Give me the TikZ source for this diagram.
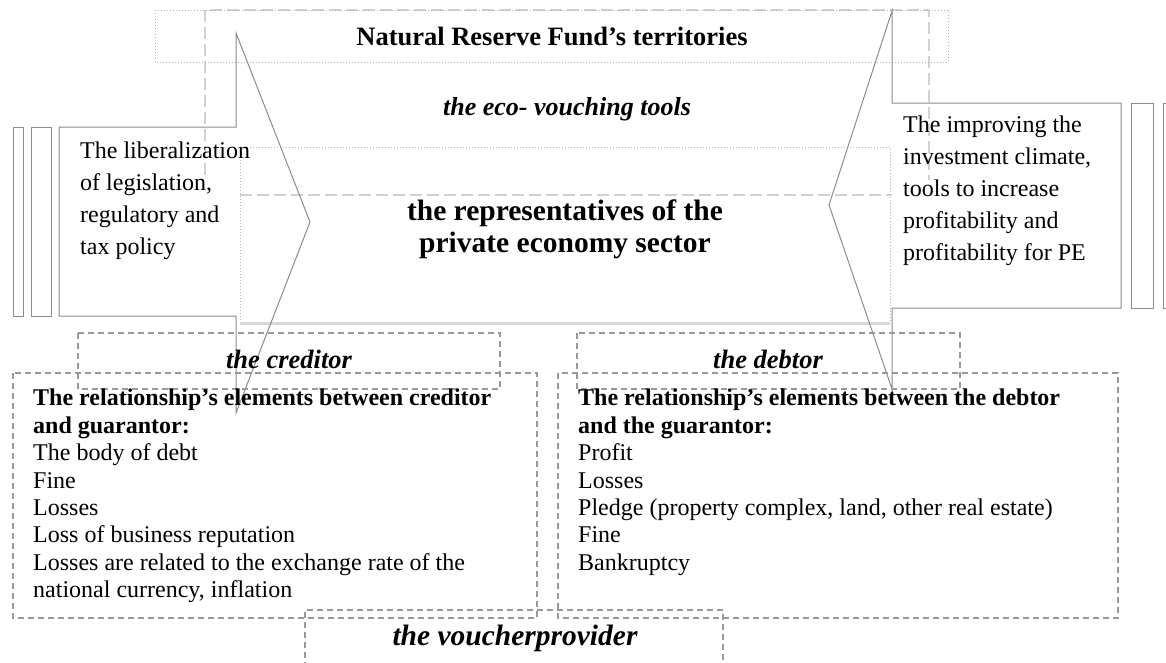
\documentclass[tikz,border=0pt]{standalone}
\usepackage{fontspec}
\setmainfont{Liberation Serif}
\usetikzlibrary{positioning}

\tikzset{
  chevron/.style={draw=black!45, line width=1pt},
  framebox/.style={draw=black!40, line width=1.3pt, dash pattern=on 6pt off 4pt},
  faintline/.style={draw=black!18, line width=1.5pt, dash pattern=on 12pt off 5pt},
  dotline/.style={draw=black!30, line width=1pt, dotted},
  palebar/.style={draw=black!15, line width=3pt},
  plaintext/.style={inner sep=0pt, align=left, anchor=north west, font=\fontsize{24}{32}\selectfont},
  listtext/.style={inner sep=0pt, align=left, anchor=north west, font=\fontsize{24}{27.4}\selectfont},
  tagtext/.style={inner sep=0pt, anchor=base, font=\fontsize{26.5}{30}\selectfont\bfseries\itshape}
}

\begin{document}
\begin{tikzpicture}[x=1pt, y=-1pt]
    \useasboundingbox (0,0) rectangle (1166,662);

    % faint long-dashed frame behind the middle part
    \draw[faintline] (205,175) -- (205,10) -- (929,10) -- (929,180);
    \draw[faintline] (240,195) -- (892,195);

    % strip of the fund and the middle field
    \draw[dotline] (155,10) rectangle (948,62);
    \draw[dotline] (240,323) -- (240,147) -- (890,147) -- (890,323);
    \draw[palebar] (240,323) -- (890,323);

    % the two chevrons pointing to the middle
    \draw[chevron] (59,127) -- (236,127) -- (236,33) -- (310,222) -- (236,413) -- (236,316) -- (59,316) -- cycle;
    \draw[chevron] (892,11) -- (892,103) -- (1121,103) -- (1121,308) -- (892,308) -- (892,389) -- (829,205) -- cycle;

    % narrow bars at the sides
    \draw[chevron] (13,127) rectangle (23,316);
    \draw[chevron] (31,127) rectangle (51,316);
    \draw[chevron] (1131,103) rectangle (1153,308);
    \draw[chevron] (1167,103) -- (1163,103) -- (1163,308) -- (1167,308);

    % dashed boxes of the lower part
    \draw[framebox] (78,333) rectangle (500,389);
    \draw[framebox] (577,333) rectangle (960,389);
    \draw[framebox] (13,373) rectangle (537,618);
    \draw[framebox] (558,373) rectangle (1118,618);
    \draw[framebox] (305,668) -- (305,610) -- (723,610) -- (723,668);

    % texts of the upper part
    \node[inner sep=0pt, anchor=base, font=\fontsize{26.5}{30}\selectfont\bfseries] (fund) at (552,45) {Natural Reserve Fund's territories};
    \node[inner sep=0pt, anchor=base, font=\fontsize{26}{30}\selectfont\bfseries\itshape] (tools) at (567,115) {the eco- vouching tools};
    \node[inner sep=0pt, anchor=north, align=center, font=\fontsize{29.5}{32}\selectfont\bfseries] (sector) at (565,200) {the representatives of the\\private economy sector};
    \node[plaintext] (liberal) at (80,142) {The liberalization\\of legislation,\\regulatory and\\tax policy};
    \node[plaintext] (climate) at (903,116) {The improving the\\investment climate,\\tools to increase\\profitability and\\profitability for PE};

    % texts of the lower part
    \node[tagtext] (creditor) at (289,368) {the creditor};
    \node[tagtext] (debtor) at (768,368) {the debtor};
    \node[tagtext, font=\fontsize{29.5}{32}\selectfont\bfseries\itshape] (voucher) at (515,645) {the voucherprovider};
    \node[listtext] (credlist) at (33,389) {\textbf{The relationship's elements between creditor}\\\textbf{and guarantor:}\\The body of debt\\Fine\\Losses\\Loss of business reputation\\Losses are related to the exchange rate of the\\national currency, inflation};
    \node[listtext] (debtlist) at (578,389) {\textbf{The relationship's elements between the debtor}\\\textbf{and the guarantor:}\\Profit\\Losses\\Pledge (property complex, land, other real estate)\\Fine\\Bankruptcy};

\end{tikzpicture}
\end{document}
